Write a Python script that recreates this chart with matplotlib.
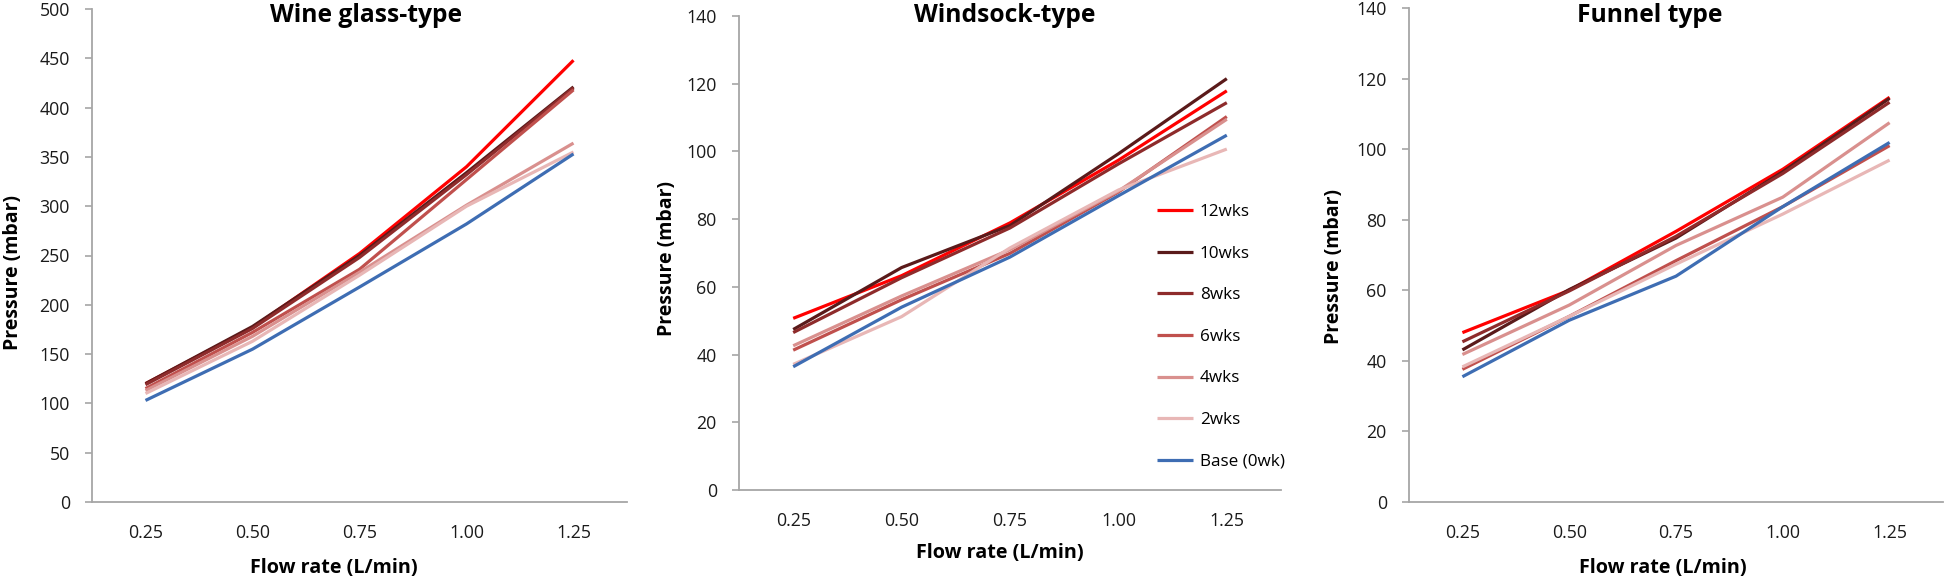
import matplotlib
matplotlib.use("Agg")
import matplotlib.pyplot as plt

plt.rcParams['font.family'] = ['Open Sans', 'DejaVu Sans']

flow_rates = ["0.25", "0.50", "0.75", "1.00", "1.25"]
series_names = ["12wks", "10wks", "8wks", "6wks", "4wks", "2wks", "Base (0wk)"]
series_colors = ["#FF0000", "#5A1A1A", "#8E2B2B", "#C0504D", "#D9908E", "#E8B7B6", "#3E6DB3"]

wine_glass = {
    "12wks": [120, 177, 252, 340, 448],
    "10wks": [120, 178, 250, 334, 421],
    "8wks": [119, 176, 248, 332, 420],
    "6wks": [115, 172, 236, 327, 418],
    "4wks": [113, 168, 233, 301, 364],
    "2wks": [110, 163, 230, 300, 355],
    "Base (0wk)": [103, 155, 218, 282, 353],
}
windsock = {
    "12wks": [50.7, 63.3, 78.9, 97.4, 117.9],
    "10wks": [47.4, 65.7, 78.1, 99.3, 121.5],
    "8wks": [46.5, 62.7, 77.4, 96.3, 114.4],
    "6wks": [41.3, 56.2, 69.9, 88.0, 110.3],
    "4wks": [42.6, 57.3, 71.0, 88.3, 109.5],
    "2wks": [37.1, 51.2, 71.5, 88.6, 100.7],
    "Base (0wk)": [36.4, 54.0, 68.8, 86.9, 104.8],
}
funnel = {
    "12wks": [48.0, 60.0, 76.7, 94.3, 114.7],
    "10wks": [43.1, 60.2, 74.8, 93.6, 114.4],
    "8wks": [45.4, 59.8, 75.3, 93.1, 113.3],
    "6wks": [37.6, 52.6, 68.4, 83.7, 101.0],
    "4wks": [41.8, 55.8, 72.7, 86.4, 107.5],
    "2wks": [38.3, 52.6, 67.4, 81.6, 96.9],
    "Base (0wk)": [35.5, 51.5, 64.0, 83.7, 101.9],
}

titles = ["Wine glass-type", "Windsock-type", "Funnel type"]
datasets = [wine_glass, windsock, funnel]
ylims = [(0, 500, 50), (0, 140, 20), (0, 140, 20)]

W, H = 1946, 583
fig = plt.figure(figsize=(W / 100, H / 100), dpi=100)

# axes boxes in pixels: left, right, top, bottom (from top of figure)
boxes = [(92, 627, 9, 502), (739, 1281, 16, 490), (1409, 1943, 8, 502)]
title_pos = [(366, 15), (1005, 15), (1650, 15)]
xlabel_pos = [(334, 568), (1000, 553), (1663, 568)]
ylabel_pos = [(13, 272), (667, 259), (1334, 266)]

grey = "#A6A6A6"
axes = []
for i, (L, R, T, B) in enumerate(boxes):
    ax = fig.add_axes([L / W, (H - B) / H, (R - L) / W, (B - T) / H])
    axes.append(ax)
    data = datasets[i]
    xs = list(range(len(flow_rates)))
    for name, col in zip(series_names, series_colors):
        ax.plot(xs, data[name], color=col, lw=2.3, label=name, solid_capstyle='butt')
    lo, hi, step = ylims[i]
    ax.set_ylim(lo, hi)
    ax.set_yticks(range(lo, hi + 1, step))
    ax.set_xlim(-0.5, len(flow_rates) - 0.5)
    ax.set_xticks(xs)
    ax.set_xticklabels(flow_rates)
    for s in ["top", "right"]:
        ax.spines[s].set_visible(False)
    for s in ["left", "bottom"]:
        ax.spines[s].set_color(grey)
        ax.spines[s].set_linewidth(1.3)
    ax.tick_params(axis='y', direction='out', length=5, width=1.2, color=grey,
                   labelsize=12.8, labelcolor='#1a1a1a', pad=11)
    ax.tick_params(axis='x', length=0, labelsize=12.8, labelcolor='#1a1a1a', pad=16)

    def fx(px):
        return (px - L) / (R - L)

    def fy(py):
        return (B - py) / (B - T)

    tx, ty = title_pos[i]
    ax.text(fx(tx), fy(ty), titles[i], transform=ax.transAxes, ha='center', va='center',
            fontsize=17.7, fontweight='bold', color='black')
    ax.set_xlabel("Flow rate (L/min)", fontsize=14.2, fontweight='bold', va='center')
    ax.xaxis.set_label_coords(fx(xlabel_pos[i][0]), fy(xlabel_pos[i][1]))
    ax.set_ylabel("Pressure (mbar)", fontsize=14.0, fontweight='bold', va='center')
    ax.yaxis.set_label_coords(fx(ylabel_pos[i][0]), fy(ylabel_pos[i][1]))

    if i == 1:
        ax.legend(loc='upper left', bbox_to_anchor=(fx(1157), fy(204)), frameon=False,
                  borderpad=0, borderaxespad=0, handlelength=2.1, handletextpad=0.4,
                  labelspacing=1.5, fontsize=12.3)

fig.savefig("out.png", dpi=100, facecolor='white')
